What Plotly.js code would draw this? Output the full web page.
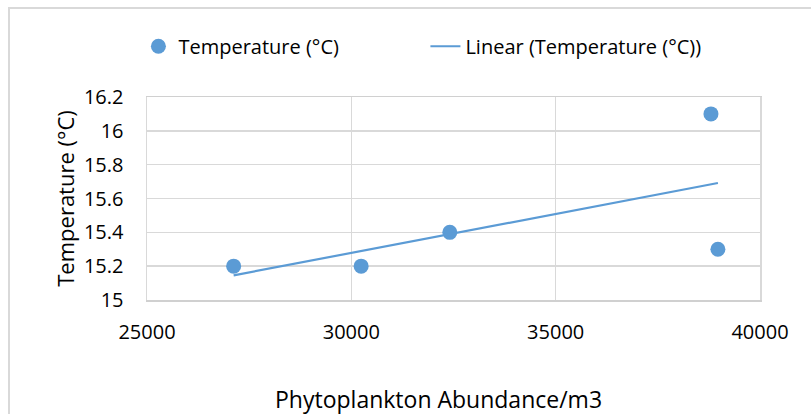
<!DOCTYPE html>
<html>
<head>
<meta charset="utf-8">
<script src="https://cdn.plot.ly/plotly-3.0.1.min.js"></script>
<style>
  html, body { margin: 0; padding: 0; background: #fff; }
  #frame { position: absolute; left: 8px; top: 7px; width: 820px; height: 420px; border: 2px solid #d9d9d9; box-sizing: border-box; }
  #chart { position: absolute; left: 0; top: 0; width: 811px; height: 414px; }
</style>
</head>
<body>
<div id="frame"></div>
<div id="chart"></div>
<script>
// Data
const abundance = [27120, 30240, 32410, 38800, 38970];
const temperature = [15.2, 15.2, 15.4, 16.1, 15.3];
const seriesName = "Temperature (°C)";
const trendName = "Linear (Temperature (°C))";
const xTickVals = [25000, 30000, 35000, 40000];
const xTickText = ["25000", "30000", "35000", "40000"];
const yTickVals = [15, 15.2, 15.4, 15.6, 15.8, 16, 16.2];
const yTickText = ["15", "15.2", "15.4", "15.6", "15.8", "16", "16.2"];
const xTitle = "Phytoplankton Abundance/m3";
const yTitle = "Temperature (°C)";

// Least-squares linear trendline (like Excel's)
const n = abundance.length;
const mx = abundance.reduce((a, b) => a + b, 0) / n;
const my = temperature.reduce((a, b) => a + b, 0) / n;
let sxy = 0, sxx = 0;
for (let i = 0; i < n; i++) {
  sxy += (abundance[i] - mx) * (temperature[i] - my);
  sxx += (abundance[i] - mx) * (abundance[i] - mx);
}
const slope = sxy / sxx;
const intercept = my - slope * mx;
const xMin = Math.min(...abundance), xMax = Math.max(...abundance);
const trendX = [xMin, xMax];
const trendY = trendX.map(x => intercept + slope * x);

const FONT = "Open Sans, Liberation Sans, sans-serif";
const BLUE = "#5b9bd5";

const traces = [
  {
    x: abundance, y: temperature, type: "scatter", mode: "markers",
    name: seriesName,
    marker: { color: BLUE, size: 15 }
  },
  {
    x: trendX, y: trendY, type: "scatter", mode: "lines",
    name: trendName,
    line: { color: BLUE, width: 2.2 }
  }
];

const layout = {
  width: 811, height: 414,
  margin: { l: 147, r: 51, t: 97, b: 114 },
  paper_bgcolor: "rgba(0,0,0,0)",
  plot_bgcolor: "#fff",
  font: { family: FONT, color: "#000" },
  showlegend: true,
  legend: {
    orientation: "h", x: -0.014, xanchor: "left", y: 1.25, yanchor: "middle",
    entrywidth: 242, entrywidthmode: "pixels",
    font: { family: FONT, size: 20, color: "#000" },
    bgcolor: "rgba(0,0,0,0)"
  },
  xaxis: {
    range: [25000, 40000],
    tickvals: xTickVals, ticktext: xTickText,
    showgrid: true, gridcolor: "#d9d9d9", gridwidth: 1.5,
    showline: true, linecolor: "#d0d0d0", linewidth: 1.5, mirror: true,
    zeroline: false, ticks: "",
    ticklabelstandoff: 13,
    tickfont: { family: FONT, size: 20, color: "#000" }
  },
  yaxis: {
    range: [15, 16.2],
    tickvals: yTickVals, ticktext: yTickText,
    showgrid: true, gridcolor: "#d9d9d9", gridwidth: 1.5,
    showline: true, linecolor: "#d9d9d9", linewidth: 1.5, mirror: true,
    zeroline: false, ticks: "",
    ticklabelstandoff: 18,
    tickfont: { family: FONT, size: 20, color: "#000" },
    title: { text: yTitle, font: { family: FONT, size: 22, color: "#000" }, standoff: 3 }
  },
  annotations: [
    {
      text: xTitle, xref: "paper", yref: "paper",
      x: 0.475, y: -0.49, xanchor: "center", yanchor: "middle",
      showarrow: false,
      font: { family: FONT, size: 23, color: "#000" }
    }
  ]
};

Plotly.newPlot("chart", traces, layout, { displayModeBar: false, staticPlot: true });
</script>
</body>
</html>
